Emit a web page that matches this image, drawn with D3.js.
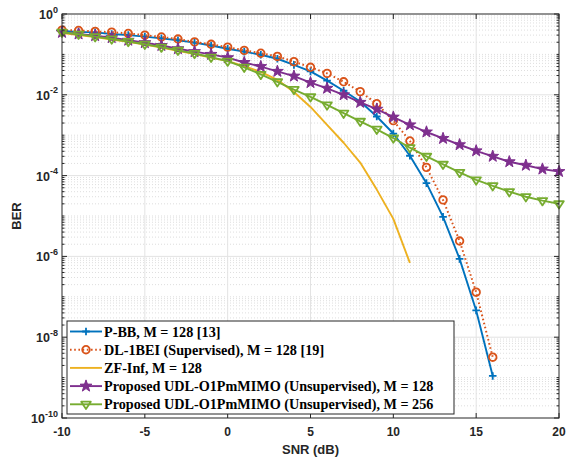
<!DOCTYPE html>
<html>
<head>
<meta charset="utf-8">
<script src="https://cdn.jsdelivr.net/npm/d3@7"></script>
<style>
  body { margin: 0; background: #fff; }
  svg { display: block; }
</style>
</head>
<body>
<svg width="567" height="458"></svg>
<script>
// SNR axis (dB)
var snrLong = d3.range(-10, 21);     // -10 .. 20
var snrShort = d3.range(-10, 17);    // -10 .. 16
var snrZf = d3.range(-10, 12);       // -10 .. 11

// BER values
var berPBB = [0.38, 0.36, 0.35, 0.32, 0.30, 0.275, 0.25, 0.224, 0.195, 0.166,
    0.138, 0.117, 0.098, 0.078, 0.055, 0.038, 0.0224, 0.0126, 6.8e-3, 2.9e-3,
    1.1e-3, 3.1e-4, 6.5e-5, 9.5e-6, 8.7e-7, 4.6e-8, 1.1e-9];
var berDL = [0.40, 0.39, 0.37, 0.355, 0.33, 0.30, 0.27, 0.24, 0.204, 0.178,
    0.151, 0.126, 0.107, 0.089, 0.066, 0.048, 0.034, 0.021, 0.012, 6.0e-3,
    2.3e-3, 7.2e-4, 1.6e-4, 2.5e-5, 2.4e-6, 1.3e-7, 3.2e-9];
var berZF = [0.34, 0.30, 0.27, 0.234, 0.204, 0.174, 0.148, 0.123, 0.102, 0.083,
    0.068, 0.051, 0.037, 0.0234, 0.0117, 5.0e-3, 1.8e-3, 6.5e-4, 2.1e-4, 4.5e-5,
    8.5e-6, 6.9e-7];
var berU128 = [0.35, 0.32, 0.29, 0.26, 0.224, 0.195, 0.166, 0.138, 0.117, 0.100,
    0.083, 0.063, 0.050, 0.038, 0.029, 0.020, 0.0145, 0.0100, 6.5e-3, 4.4e-3,
    2.8e-3, 1.8e-3, 1.2e-3, 8.3e-4, 5.8e-4, 4.1e-4, 3.0e-4, 2.2e-4, 1.8e-4, 1.45e-4,
    1.26e-4];
var berU256 = [0.355, 0.316, 0.275, 0.24, 0.209, 0.178, 0.151, 0.126, 0.105, 0.085,
    0.068, 0.048, 0.032, 0.021, 0.0135, 8.9e-3, 5.6e-3, 3.5e-3, 2.2e-3, 1.4e-3,
    8.5e-4, 4.9e-4, 3.0e-4, 1.9e-4, 1.2e-4, 7.8e-5, 5.6e-5, 4.0e-5, 3.0e-5, 2.4e-5,
    2.0e-5];

var seriesNames = [
    'P-BB, M = 128 [13]',
    'DL-1BEI (Supervised), M = 128 [19]',
    'ZF-Inf, M = 128',
    'Proposed UDL-O1PmMIMO (Unsupervised), M = 128',
    'Proposed UDL-O1PmMIMO (Unsupervised), M = 256'
];

var xTicks = [-10, -5, 0, 5, 10, 15, 20];
var yTickExp = [0, -2, -4, -6, -8, -10];

var series = [
    { name: seriesNames[0], x: snrShort, y: berPBB, color: '#0072BD', marker: 'plus', dash: null },
    { name: seriesNames[1], x: snrShort, y: berDL, color: '#D95319', marker: 'circle', dash: '1.6,2.6' },
    { name: seriesNames[2], x: snrZf, y: berZF, color: '#EDB120', marker: null, dash: null },
    { name: seriesNames[3], x: snrLong, y: berU128, color: '#7E2F8E', marker: 'star', dash: null },
    { name: seriesNames[4], x: snrLong, y: berU256, color: '#77AC30', marker: 'tri', dash: null }
];

var svg = d3.select('svg');
var plot = { l: 62, r: 559, t: 14, b: 418 };

var xScale = d3.scaleLinear().domain([-10, 20]).range([plot.l, plot.r]);
var yScale = d3.scaleLog().domain([1e-10, 1]).range([plot.b, plot.t]);

// background
svg.append('rect')
    .attr('x', plot.l).attr('y', plot.t)
    .attr('width', plot.r - plot.l).attr('height', plot.b - plot.t)
    .attr('fill', '#fff');

// minor y grid (dotted), every k*10^e not on a major tick
var minorY = [];
for (var e = -10; e < 0; e++) {
    for (var k = 1; k <= 9; k++) {
        var v = k * Math.pow(10, e);
        if (k === 1 && e % 2 === 0) continue;
        minorY.push(v);
    }
}
var gridG = svg.append('g');
gridG.selectAll('.minor')
    .data(minorY)
    .enter().append('line')
    .attr('x1', plot.l).attr('x2', plot.r)
    .attr('y1', d => yScale(d)).attr('y2', d => yScale(d))
    .attr('stroke', '#c8c8c8')
    .attr('stroke-width', 0.6)
    .attr('stroke-dasharray', '1,2');

// major grid
gridG.selectAll('.gx')
    .data(xTicks.slice(1, -1))
    .enter().append('line')
    .attr('x1', d => xScale(d)).attr('x2', d => xScale(d))
    .attr('y1', plot.t).attr('y2', plot.b)
    .attr('stroke', '#e3e3e3')
    .attr('stroke-width', 1);
gridG.selectAll('.gy')
    .data(yTickExp.slice(1, -1))
    .enter().append('line')
    .attr('x1', plot.l).attr('x2', plot.r)
    .attr('y1', d => yScale(Math.pow(10, d))).attr('y2', d => yScale(Math.pow(10, d)))
    .attr('stroke', '#e3e3e3')
    .attr('stroke-width', 1);

// marker shapes
function markerPath(type, s) {
    if (type === 'plus') {
        return 'M' + (-s) + ',0H' + s + 'M0,' + (-s) + 'V' + s;
    }
    if (type === 'circle') {
        return 'M' + s + ',0A' + s + ',' + s + ' 0 1,1 ' + (-s) + ',0A' + s + ',' + s + ' 0 1,1 ' + s + ',0Z';
    }
    if (type === 'tri') {
        var h = s * 0.9;
        return 'M' + (-s) + ',' + (-h * 0.6) + 'L' + s + ',' + (-h * 0.6) + 'L0,' + (h * 1.1) + 'Z';
    }
    if (type === 'star') {
        var pts = [];
        for (var i = 0; i < 10; i++) {
            var r = i % 2 === 0 ? s : s * 0.4;
            var a = -Math.PI / 2 + i * Math.PI / 5;
            pts.push([r * Math.cos(a), r * Math.sin(a)]);
        }
        return 'M' + pts.map(p => p[0].toFixed(2) + ',' + p[1].toFixed(2)).join('L') + 'Z';
    }
    return '';
}
var markerSize = { plus: 3.8, circle: 3.8, tri: 4.8, star: 6.2 };

function drawMarker(g, type, color) {
    g.append('path')
        .attr('d', markerPath(type, markerSize[type]))
        .attr('fill', type === 'star' ? color : 'none')
        .attr('stroke', color)
        .attr('stroke-width', type === 'star' ? 1 : 1.8)
        .attr('stroke-linejoin', 'round');
}

// clip for the lines
svg.append('clipPath').attr('id', 'clip')
    .append('rect')
    .attr('x', plot.l).attr('y', plot.t)
    .attr('width', plot.r - plot.l).attr('height', plot.b - plot.t);

var line = d3.line()
    .x(d => xScale(d[0]))
    .y(d => yScale(d[1]));

var dataG = svg.append('g');
series.forEach(function(s) {
    var pts = s.x.map((x, i) => [x, s.y[i]]);
    dataG.append('path')
        .datum(pts)
        .attr('clip-path', 'url(#clip)')
        .attr('d', line)
        .attr('fill', 'none')
        .attr('stroke', s.color)
        .attr('stroke-width', s.dash ? 2 : 1.9)
        .attr('stroke-dasharray', s.dash)
        .attr('stroke-linejoin', 'round');
    if (s.marker) {
        dataG.selectAll(null)
            .data(pts)
            .enter().append('g')
            .attr('transform', d => 'translate(' + [xScale(d[0]), yScale(d[1])] + ')')
            .each(function() { drawMarker(d3.select(this), s.marker, s.color); });
    }
});

// axes box and ticks
var axisColor = '#262626';
var axG = svg.append('g');
axG.append('rect')
    .attr('x', plot.l).attr('y', plot.t)
    .attr('width', plot.r - plot.l).attr('height', plot.b - plot.t)
    .attr('fill', 'none')
    .attr('stroke', axisColor)
    .attr('stroke-width', 1);

xTicks.forEach(function(t) {
    var x = xScale(t);
    axG.append('line').attr('x1', x).attr('x2', x).attr('y1', plot.b).attr('y2', plot.b - 5)
        .attr('stroke', axisColor);
    axG.append('line').attr('x1', x).attr('x2', x).attr('y1', plot.t).attr('y2', plot.t + 5)
        .attr('stroke', axisColor);
    axG.append('text')
        .attr('x', x).attr('y', plot.b + 18)
        .attr('text-anchor', 'middle')
        .style('font-family', 'Liberation Sans, Arial, sans-serif')
        .style('font-weight', 'bold')
        .style('font-size', '12px')
        .attr('fill', axisColor)
        .text(t);
});

minorY.forEach(function(v) {
    var y = yScale(v);
    axG.append('line').attr('x1', plot.l).attr('x2', plot.l + 2.5).attr('y1', y).attr('y2', y)
        .attr('stroke', axisColor);
    axG.append('line').attr('x1', plot.r).attr('x2', plot.r - 2.5).attr('y1', y).attr('y2', y)
        .attr('stroke', axisColor);
});

yTickExp.forEach(function(ex) {
    var y = yScale(Math.pow(10, ex));
    axG.append('line').attr('x1', plot.l).attr('x2', plot.l + 5).attr('y1', y).attr('y2', y)
        .attr('stroke', axisColor);
    axG.append('line').attr('x1', plot.r).attr('x2', plot.r - 5).attr('y1', y).attr('y2', y)
        .attr('stroke', axisColor);
    var lab = axG.append('text')
        .attr('x', plot.l - 4).attr('y', y + 5)
        .attr('text-anchor', 'end')
        .style('font-family', 'Liberation Sans, Arial, sans-serif')
        .style('font-weight', 'bold')
        .style('font-size', '12.5px')
        .attr('fill', axisColor);
    lab.append('tspan').text('10');
    lab.append('tspan').attr('dy', -6.5).style('font-size', '9px').text(ex);
});

// axis titles
svg.append('text')
    .attr('x', (plot.l + plot.r) / 2).attr('y', plot.b + 36)
    .attr('text-anchor', 'middle')
    .style('font-family', 'Liberation Sans, Arial, sans-serif')
    .style('font-weight', 'bold')
    .style('font-size', '13px')
    .attr('fill', axisColor)
    .text('SNR (dB)');
svg.append('text')
    .attr('transform', 'translate(21,' + (plot.t + plot.b) / 2 + ')rotate(-90)')
    .attr('text-anchor', 'middle')
    .style('font-family', 'Liberation Sans, Arial, sans-serif')
    .style('font-weight', 'bold')
    .style('font-size', '13px')
    .attr('fill', axisColor)
    .text('BER');

// legend
var leg = { x: 67, y: 321, w: 387, h: 93, row: 18.2 };
var legG = svg.append('g');
legG.append('rect')
    .attr('x', leg.x).attr('y', leg.y)
    .attr('width', leg.w).attr('height', leg.h)
    .attr('fill', '#fff')
    .attr('stroke', axisColor)
    .attr('stroke-width', 1);

series.forEach(function(s, i) {
    var cy = leg.y + 10.5 + i * leg.row;
    legG.append('line')
        .attr('x1', leg.x + 3).attr('x2', leg.x + 35)
        .attr('y1', cy).attr('y2', cy)
        .attr('stroke', s.color)
        .attr('stroke-width', 1.9)
        .attr('stroke-dasharray', s.dash);
    if (s.marker) {
        var mg = legG.append('g').attr('transform', 'translate(' + [leg.x + 19, cy] + ')');
        drawMarker(mg, s.marker, s.color);
    }
    legG.append('text')
        .attr('x', leg.x + 37).attr('y', cy + 5)
        .style('font-family', 'Liberation Serif, Times New Roman, serif')
        .style('font-weight', 'bold')
        .style('font-size', '14.2px')
        .attr('fill', '#000')
        .text(s.name);
});
</script>
</body>
</html>
